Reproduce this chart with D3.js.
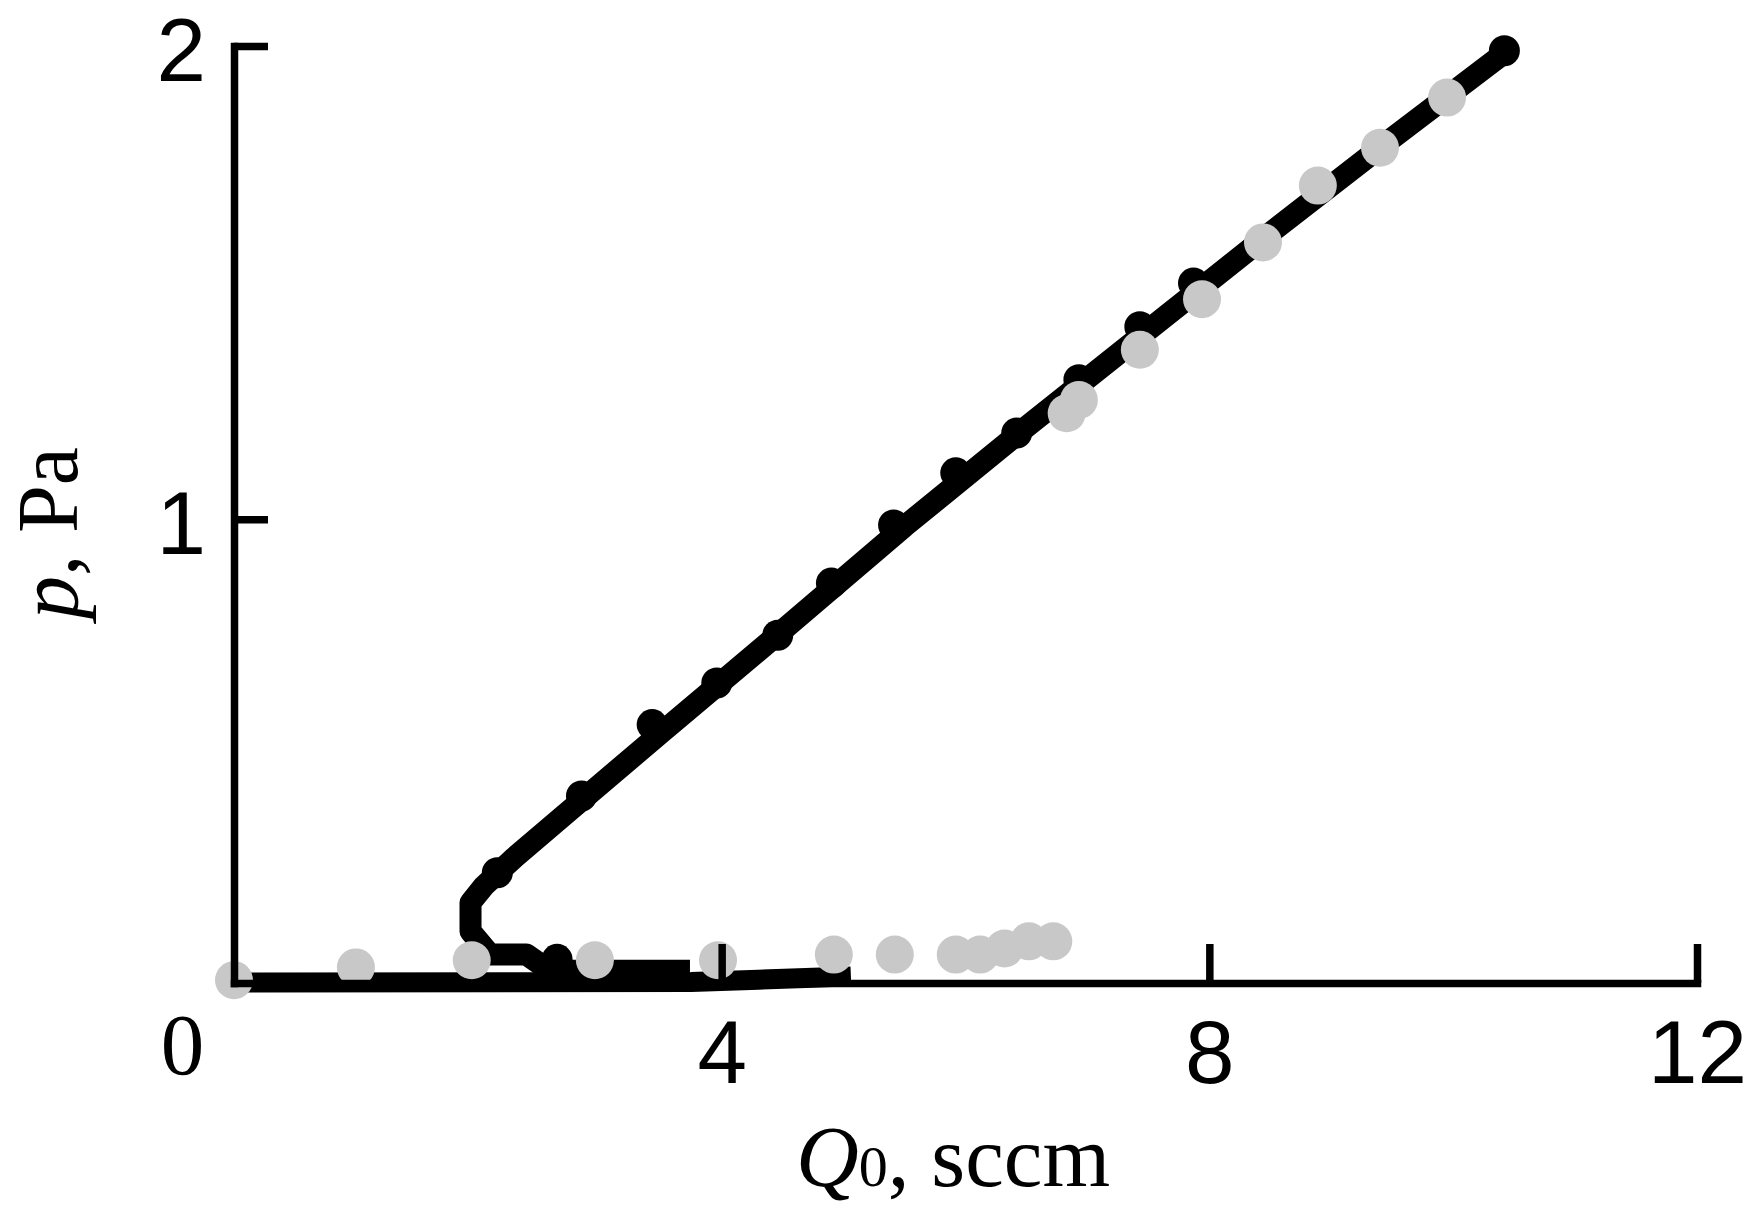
<!DOCTYPE html>
<html><head><meta charset="utf-8">
<script src="https://cdn.jsdelivr.net/npm/d3@7"></script>
<style>body{margin:0;background:#fff} svg{display:block}</style>
</head><body><svg id="chart" width="1761" height="1230"></svg>
<script>
// ---- data ----
const xTickValues = [4, 8, 12];
const yTickValues = [1, 2];
const originLabel = "0";

// black series: lower (forward) branch
const lowerBranchQ = [0, 3.75, 4.3, 4.75, 5.06];
const lowerBranchP = [0.021, 0.022, 0.027, 0.031, 0.034];

// black series: upper branch and return branch
const upperBranchQ = [10.42, 9.5, 8.5, 7.5, 6.5, 5.5, 4.5, 3.5, 2.8, 2.3, 2.05, 1.94, 1.94, 2.10, 2.40, 2.59, 3.74];
const upperBranchP = [1.985, 1.805, 1.605, 1.400, 1.195, 0.985, 0.765, 0.548, 0.395, 0.285, 0.225, 0.19, 0.129, 0.080, 0.080, 0.046, 0.046];

// black markers
const blackDotQ = [2.16, 2.65, 2.85, 3.43, 3.96, 4.46, 4.90, 5.41, 5.92, 6.42, 6.93, 7.43, 7.87, 10.42];
const blackDotP = [0.253, 0.070, 0.415, 0.566, 0.654, 0.755, 0.865, 0.988, 1.098, 1.182, 1.295, 1.407, 1.499, 1.99];

// gray markers
const grayQ = [0, 1.0, 1.95, 2.96, 3.97, 4.92, 5.42, 5.92, 6.12, 6.32, 6.52, 6.72, 6.83, 6.93, 7.43, 7.94, 8.44, 8.89, 9.40, 9.95];
const grayP = [0.026, 0.053, 0.068, 0.068, 0.068, 0.080, 0.080, 0.080, 0.080, 0.093, 0.108, 0.108, 1.224, 1.252, 1.358, 1.465, 1.585, 1.705, 1.785, 1.891];

const pAxisFloor = 0.02;

// ---- chart ----
const svg = d3.select('#chart');
svg.append('rect').attr('width', 1761).attr('height', 1230).attr('fill', '#fff');

const x = d3.scaleLinear().domain([0, 12]).range([234, 1697]);
const y = d3.scaleLinear().domain([pAxisFloor, 2]).range([983, 46]);

const line = d3.line().x(d => x(d[0])).y(d => y(d[1]));

svg.append('path').datum(d3.zip(lowerBranchQ, lowerBranchP))
  .attr('d', line).attr('fill', 'none').attr('stroke', '#000')
  .attr('stroke-width', 20).attr('stroke-linejoin', 'round');

svg.append('path').datum(d3.zip(upperBranchQ, upperBranchP))
  .attr('d', line).attr('fill', 'none').attr('stroke', '#000')
  .attr('stroke-width', 22).attr('stroke-linejoin', 'round');

svg.append('g').selectAll('circle').data(d3.zip(blackDotQ, blackDotP)).join('circle')
  .attr('cx', d => x(d[0])).attr('cy', d => y(d[1])).attr('r', 15.5).attr('fill', '#000');

svg.append('g').selectAll('circle').data(d3.zip(grayQ, grayP)).join('circle')
  .attr('cx', d => x(d[0])).attr('cy', d => y(d[1])).attr('r', 19).attr('fill', '#c8c8c8');

// axes
const sans = '"Liberation Sans", Arial, sans-serif';
const serif = '"Liberation Serif", "Times New Roman", serif';

const gx = svg.append('g').attr('transform', `translate(0,${y(pAxisFloor)})`)
  .call(d3.axisBottom(x).tickValues(xTickValues).tickSizeInner(-39).tickSizeOuter(0)
    .tickPadding(100).tickFormat(d3.format('d')));
gx.select('.domain').attr('stroke', '#000').attr('stroke-width', 7.5).attr('stroke-linecap', 'square');
gx.selectAll('.tick line').attr('stroke', '#000').attr('stroke-width', 7.5);
gx.selectAll('.tick text').attr('dy', 0).attr('font-size', 89).attr('font-family', sans).attr('fill', '#000');

const gy = svg.append('g').attr('transform', `translate(${x(0)},0)`)
  .call(d3.axisLeft(y).tickValues(yTickValues).tickSizeInner(-34).tickSizeOuter(0)
    .tickPadding(28).tickFormat(d3.format('d')));
gy.select('.domain').attr('stroke', '#000').attr('stroke-width', 7.5).attr('stroke-linecap', 'square');
gy.selectAll('.tick line').attr('stroke', '#000').attr('stroke-width', 7.5);
gy.selectAll('.tick text').attr('dy', '0.39em').attr('font-size', 89).attr('font-family', sans).attr('fill', '#000');

// origin label
svg.append('text').attr('x', 182.5).attr('y', 1074).attr('text-anchor', 'middle')
  .attr('font-family', serif).attr('font-size', 87).attr('fill', '#000').text(originLabel);

// x title
const xt = svg.append('text').attr('x', 796).attr('y', 1186)
  .attr('font-family', serif).attr('font-size', 87).attr('fill', '#000');
xt.append('tspan').attr('font-style', 'italic').text('Q');
xt.append('tspan').attr('font-size', 58).text('0');
xt.append('tspan').text(', sccm');

// y title
const yt = svg.append('text').attr('transform', 'translate(77,533) rotate(-90)')
  .attr('text-anchor', 'middle').attr('font-family', serif).attr('font-size', 86).attr('fill', '#000');
yt.append('tspan').attr('font-style', 'italic').text('p');
yt.append('tspan').text(', Pa');
</script>
</body></html>
